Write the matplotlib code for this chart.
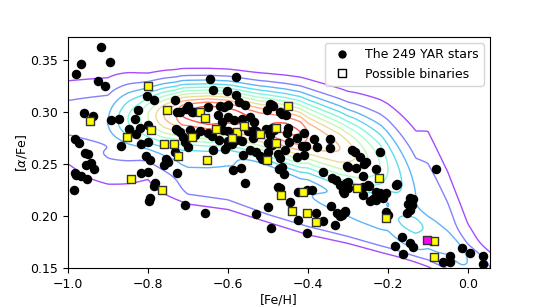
import numpy as np
import matplotlib
matplotlib.use('Agg')
import matplotlib.pyplot as plt
from matplotlib.lines import Line2D

plt.rcParams['font.size'] = 9

# YAR stars ([Fe/H], [alpha/Fe])
feh = [-0.917, -0.967, -0.98, -0.895, -0.925, -0.907, -0.96, -0.937, -0.802, -0.785,
       -0.733, -0.825, -0.833, -0.873, -0.892, -0.848, -0.82, -0.80, -0.83, -0.80,
       -0.818, -0.868, -0.983, -0.973, -0.73, -0.705, -0.69, -0.67, -0.645, -0.58,
       -0.637, -0.603, -0.58, -0.728, -0.72, -0.70, -0.688, -0.65, -0.62, -0.60,
       -0.61, -0.573, -0.557, -0.625, -0.615, -0.60, -0.585, -0.565, -0.545, -0.535,
       -0.728, -0.72, -0.695, -0.683, -0.65, -0.64, -0.612, -0.60, -0.58, -0.55,
       -0.535, -0.537, -0.622, -0.60, -0.59, -0.58, -0.565, -0.49, -0.485, -0.488,
       -0.47, -0.455, -0.49, -0.503, -0.465, -0.495, -0.53, -0.505, -0.495, -0.45,
       -0.50, -0.49, -0.453, -0.448, -0.428, -0.41, -0.415, -0.405, -0.385, -0.378,
       -0.345, -0.345, -0.708, -0.70, -0.713, -0.637, -0.608, -0.60, -0.563, -0.545,
       -0.53, -0.52, -0.515, -0.50, -0.475, -0.458, -0.428, -0.41, -0.47, -0.755,
       -0.76, -0.75, -0.795, -0.805, -0.588, -0.568, -0.557, -0.473, -0.465, -0.46,
       -0.475, -0.47, -0.403, -0.363, -0.34, -0.33, -0.305, -0.32, -0.30, -0.28,
       -0.26, -0.23, -0.22, -0.29, -0.27, -0.283, -0.255, -0.263, -0.25, -0.22,
       -0.205, -0.18, -0.30, -0.31, -0.783, -0.795, -0.957, -0.95, -0.955, -0.943,
       -0.935, -0.983, -0.98, -0.968, -0.953, -0.985, -0.818, -0.80, -0.785, -0.798,
       -0.728, -0.733, -0.708, -0.658, -0.425, -0.39, -0.445, -0.50, -0.425, -0.38,
       -0.363, -0.333, -0.343, -0.328, -0.32, -0.308, -0.53, -0.493, -0.403, -0.303,
       -0.263, -0.30, -0.313, -0.248, -0.23, -0.178, -0.263, -0.245, -0.238, -0.23,
       -0.213, -0.08, -0.145, -0.138, -0.15, -0.14, -0.145, -0.153, -0.308, -0.315,
       -0.205, -0.20, -0.165, -0.183, -0.145, -0.138, -0.163, -0.063, -0.045, -0.045,
       -0.015, 0.005, 0.038, 0.038]
alfe = [0.363, 0.346, 0.337, 0.348, 0.330, 0.325, 0.299, 0.296, 0.315, 0.312,
        0.312, 0.302, 0.293, 0.293, 0.292, 0.284, 0.285, 0.288, 0.279, 0.271,
        0.269, 0.267, 0.274, 0.270, 0.284, 0.303, 0.300, 0.282, 0.332, 0.334,
        0.321, 0.320, 0.316, 0.300, 0.300, 0.306, 0.300, 0.305, 0.306, 0.307,
        0.305, 0.310, 0.307, 0.297, 0.290, 0.295, 0.292, 0.293, 0.295, 0.290,
        0.283, 0.281, 0.283, 0.278, 0.280, 0.277, 0.283, 0.282, 0.277, 0.282,
        0.283, 0.275, 0.273, 0.272, 0.269, 0.273, 0.272, 0.285, 0.283, 0.306,
        0.300, 0.297, 0.307, 0.302, 0.298, 0.308, 0.282, 0.284, 0.278, 0.285,
        0.270, 0.268, 0.280, 0.271, 0.275, 0.280, 0.267, 0.267, 0.274, 0.266,
        0.274, 0.265, 0.271, 0.266, 0.276, 0.263, 0.264, 0.268, 0.259, 0.263,
        0.262, 0.258, 0.255, 0.262, 0.260, 0.263, 0.257, 0.259, 0.256, 0.255,
        0.249, 0.252, 0.254, 0.258, 0.244, 0.246, 0.232, 0.245, 0.247, 0.240,
        0.228, 0.227, 0.225, 0.242, 0.237, 0.235, 0.232, 0.230, 0.247, 0.246,
        0.250, 0.245, 0.262, 0.263, 0.257, 0.262, 0.252, 0.228, 0.230, 0.222,
        0.222, 0.230, 0.227, 0.222, 0.232, 0.217, 0.261, 0.260, 0.249, 0.251,
        0.245, 0.241, 0.239, 0.238, 0.236, 0.225, 0.241, 0.242, 0.229, 0.214,
        0.241, 0.262, 0.211, 0.203, 0.223, 0.225, 0.213, 0.209, 0.196, 0.203,
        0.195, 0.191, 0.210, 0.203, 0.200, 0.205, 0.202, 0.188, 0.184, 0.248,
        0.238, 0.233, 0.224, 0.229, 0.223, 0.231, 0.220, 0.214, 0.216, 0.215,
        0.217, 0.245, 0.217, 0.216, 0.212, 0.211, 0.206, 0.203, 0.204, 0.201,
        0.204, 0.201, 0.180, 0.171, 0.174, 0.170, 0.163, 0.156, 0.156, 0.162,
        0.169, 0.164, 0.162, 0.154]

# possible binaries
bin_feh = [-0.945, -0.80, -0.753, -0.793, -0.853, -0.76, -0.735, -0.69, -0.67, -0.657,
           -0.63, -0.578, -0.56, -0.59, -0.45, -0.48, -0.52, -0.48, -0.725, -0.653,
           -0.503, -0.413, -0.468, -0.222, -0.278, -0.765, -0.843, -0.44, -0.403, -0.38,
           -0.205, -0.085, -0.085]
bin_alfe = [0.291, 0.325, 0.302, 0.283, 0.276, 0.269, 0.269, 0.276, 0.300, 0.294,
            0.284, 0.281, 0.287, 0.275, 0.306, 0.285, 0.279, 0.270, 0.258, 0.254,
            0.254, 0.223, 0.220, 0.237, 0.227, 0.225, 0.236, 0.205, 0.203, 0.194,
            0.198, 0.176, 0.161]
# the single highlighted star
odd_feh = [-0.103]
odd_alfe = [0.177]

# background sample density, described by its ridge (peak height along [Fe/H],
# ridge [alpha/Fe], widths above/below) plus a low shelf under the ridge
peak_x = [-1.0, -0.9, -0.875, -0.85, -0.82, -0.80, -0.78, -0.76, -0.73, -0.715,
          -0.65, -0.58, -0.545, -0.52, -0.49, -0.455, -0.42, -0.40, -0.32, -0.28,
          -0.25, -0.22, -0.20, -0.165, -0.13, -0.08, -0.02, 0.04, 0.07]
peak_h = [0.21, 0.25, 0.333, 0.417, 0.5, 0.583, 0.667, 0.75, 0.833, 0.917,
          1.0, 0.96, 0.917, 0.9, 0.917, 0.94, 0.917, 0.833, 0.75, 0.667,
          0.583, 0.5, 0.417, 0.333, 0.25, 0.22, 0.17, 0.11, 0.08]
knot_x = [-1.0, -0.9, -0.8, -0.7, -0.6, -0.5, -0.4, -0.3, -0.2, -0.13, -0.1, -0.05, 0.0, 0.07]
ridge_y = [0.292, 0.290, 0.296, 0.298, 0.297, 0.289, 0.278, 0.262, 0.245, 0.215, 0.21, 0.19, 0.16, 0.13]
width_up = [0.028, 0.029, 0.021, 0.020, 0.020, 0.022, 0.025, 0.028, 0.035, 0.045, 0.05, 0.04, 0.03, 0.03]
width_dn = [0.020, 0.022, 0.024, 0.023, 0.022, 0.025, 0.027, 0.028, 0.030, 0.032, 0.032, 0.03, 0.03, 0.03]
shelf_y = [0.250, 0.245, 0.240, 0.235, 0.232, 0.215, 0.205, 0.195, 0.185, 0.18, 0.175, 0.165, 0.15, 0.14]
shelf_h = [0.06, 0.10, 0.06, 0.18, 0.19, 0.19, 0.19, 0.19, 0.19, 0.18, 0.15, 0.12, 0.1, 0.08]
shelf_w = [0.02, 0.02, 0.02, 0.025, 0.027, 0.022, 0.024, 0.022, 0.022, 0.022, 0.022, 0.022, 0.022, 0.022]
levels = [1/12, 2/12, 3/12, 4/12, 5/12, 6/12, 7/12, 8/12, 9/12, 10/12, 11/12]

gx, gy = np.meshgrid(np.linspace(-1.0, 0.06, 400), np.linspace(0.14, 0.38, 400))
P = np.interp(gx, peak_x, peak_h)
y0 = np.interp(gx, knot_x, ridge_y)
d = gy - y0
s = np.where(d > 0, np.interp(gx, knot_x, width_up), np.interp(gx, knot_x, width_dn))
dens = P * np.exp(-d**2 / (2 * s**2))
q = (gy - np.interp(gx, knot_x, shelf_y)) / np.interp(gx, knot_x, shelf_w)
dens += np.interp(gx, knot_x, shelf_h) * np.exp(-q**4)

fig = plt.figure(figsize=(5.45, 3.07), dpi=100)
ax = fig.add_axes([0.1248, 0.127, 0.774, 0.752])
ax.contour(gx, gy, dens, levels=levels, cmap='rainbow', alpha=0.7, linewidths=1, zorder=1)
ax.scatter(feh, alfe, s=34, c='k', zorder=2)
ax.scatter(bin_feh, bin_alfe, s=32, marker='s', c='yellow', edgecolors='#333333', linewidths=1, zorder=3)
ax.scatter(odd_feh, odd_alfe, s=32, marker='s', c='magenta', edgecolors='#333333', linewidths=1, zorder=3)

ax.set_xlim(-1.0, 0.055)
ax.set_ylim(0.15, 0.372)
ax.set_xticks([-1.0, -0.8, -0.6, -0.4, -0.2, 0.0])
ax.set_yticks([0.15, 0.20, 0.25, 0.30, 0.35])
ax.set_xlabel('[Fe/H]', labelpad=2)
ax.set_ylabel(r'[$\alpha$/Fe]', labelpad=1)

hands = [Line2D([], [], ls='', marker='o', color='k', markersize=5),
         Line2D([], [], ls='', marker='s', mfc='white', mec='k', markersize=5.5)]
ax.legend(hands, ['The 249 YAR stars', 'Possible binaries'], loc='upper right')

fig.savefig('out.png', dpi=100)
